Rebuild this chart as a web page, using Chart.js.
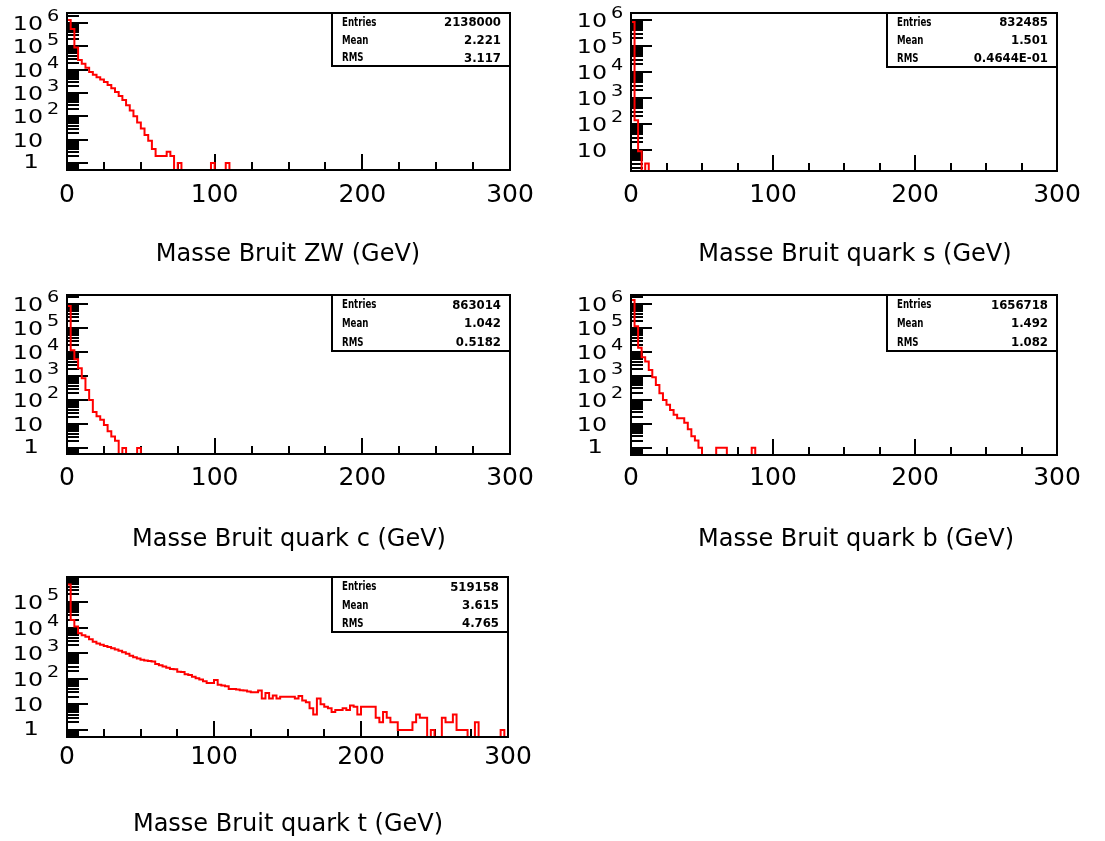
<!DOCTYPE html>
<html>
<head>
<meta charset="utf-8">
<script src="https://cdn.jsdelivr.net/npm/chart.js"></script>
<style>
body { margin:0; background:#fff; width:1105px; height:841px; position:relative; overflow:hidden; }
canvas { position:absolute; }
</style>
</head>
<body>
<canvas id="c1" width="552" height="283" style="left:0px;top:0px"></canvas>
<canvas id="c2" width="553" height="283" style="left:552px;top:0px"></canvas>
<canvas id="c3" width="552" height="283" style="left:0px;top:283px"></canvas>
<canvas id="c4" width="553" height="283" style="left:552px;top:283px"></canvas>
<canvas id="c5" width="552" height="275" style="left:0px;top:566px"></canvas>
<script>
// histogram bins: 2.5 GeV wide, 0..300 GeV (bins after the listed ones are empty)
var binWidth = 2.5;
var nBins = 120;
var xTicks = [0, 100, 200, 300];

var zwCounts = [1350000, 550000, 90000, 26000, 18000, 12000, 8000, 6000, 4800, 3800,
  3000, 2200, 1600, 1100, 750, 500, 300, 180, 100, 55,
  30, 16, 9, 4, 2, 2, 2, 3, 2, 0,
  1, 0, 0, 0, 0, 0, 0, 0, 0, 1,
  0, 0, 0, 1];
var sCounts = [832000, 140, 9, 0, 3];
var cCounts = [840000, 12000, 5000, 2100, 800, 260, 100, 32, 21, 15,
  9, 5, 3, 2, 0, 1, 0, 0, 0, 1];
var bCounts = [1500000, 120000, 15000, 6000, 4000, 1780, 880, 420, 190, 100,
  62, 38, 24, 17, 17, 11, 6, 3, 2, 1,
  0, 0, 0, 0, 1, 1, 1, 0, 0, 0,
  0, 0, 0, 0, 1];
var tCounts = [480000, 20000, 11000, 6000, 5000, 4400, 3500, 2800, 2400, 2150,
  1900, 1750, 1550, 1400, 1250, 1100, 950, 800, 690, 620,
  560, 520, 490, 470, 375, 340, 300, 270, 240, 235,
  190, 185, 150, 140, 120, 105, 93, 80, 69, 69,
  89, 59, 55, 51, 40, 40, 38, 36, 35, 32,
  30, 30, 35, 17, 28, 17, 22, 17, 20, 20,
  20, 20, 17, 21, 14, 12, 7, 4, 17, 10,
  8, 7, 5, 6, 6, 7, 6, 9, 8, 4,
  8, 8, 8, 8, 3, 2, 5, 3, 2, 2,
  1, 1, 1, 1, 2, 4, 3, 3, 0, 1,
  0, 0, 3, 2, 2, 4, 1, 1, 1, 0,
  0, 2, 0, 0, 0, 0, 0, 0, 1];

var titles = ["Masse Bruit ZW (GeV)", "Masse Bruit quark s (GeV)", "Masse Bruit quark c (GeV)",
  "Masse Bruit quark b (GeV)", "Masse Bruit quark t (GeV)"];
var entries = ["2138000", "832485", "863014", "1656718", "519158"];
var means = ["2.221", "1.501", "1.042", "1.492", "3.615"];
var rmss = ["3.117", "0.4644E-01", "0.5182", "1.082", "4.765"];
var yMins = [0.5, 1.55, 0.56, 0.5, 0.53];
var yMaxs = [2.7e6, 1.85e6, 2.4e6, 2.4e6, 9.5e5];

// layout: canvas position and frame box, page coordinates
var layout = [
  {id: 'c1', cx: 0, cy: 0, frame: [67, 13, 510, 170], sw: 178, sh: 53, tx: 288, ty: 255, ly: 25},
  {id: 'c2', cx: 552, cy: 0, frame: [631, 13, 1057, 171], sw: 170, sh: 54, tx: 855, ty: 255, ly: 24},
  {id: 'c3', cx: 0, cy: 283, frame: [67, 295, 510, 454], sw: 178, sh: 56, tx: 289, ty: 540, ly: 24},
  {id: 'c4', cx: 552, cy: 283, frame: [631, 295, 1057, 455], sw: 170, sh: 56, tx: 856, ty: 540, ly: 23},
  {id: 'c5', cx: 0, cy: 566, frame: [67, 577, 508, 737], sw: 176, sh: 55, tx: 288, ty: 825, ly: 20}
];
var allCounts = [zwCounts, sCounts, cCounts, bCounts, tCounts];

// one point per bin low edge, value held until the next edge
function histPoints(counts, ymin) {
  var pts = [];
  for (var i = 0; i < nBins; i++) {
    var c = i < counts.length ? counts[i] : 0;
    pts.push({x: i * binWidth, y: c > 0 ? c : ymin});
  }
  pts.push({x: nBins * binWidth, y: ymin});
  return pts;
}

function txt(ctx, s, x, y, font, sx, align) {
  ctx.save();
  ctx.font = font;
  ctx.translate(x, y);
  ctx.scale(sx, 1);
  ctx.textAlign = align;
  ctx.textBaseline = 'middle';
  ctx.fillStyle = '#000';
  ctx.fillText(s, 0, 0);
  ctx.restore();
}

function seg(ctx, x1, y1, x2, y2) {
  ctx.beginPath();
  ctx.moveTo(x1, y1);
  ctx.lineTo(x2, y2);
  ctx.stroke();
}

var rootFrame = {
  id: 'rootFrame',
  // tick marks go under the histogram line
  beforeDatasetsDraw: function(chart) {
    var ctx = chart.ctx, a = chart.chartArea, xs = chart.scales.x, ys = chart.scales.y;
    ctx.save();
    ctx.strokeStyle = '#000';
    ctx.lineWidth = 2;
    var lo = Math.floor(Math.log10(ys.min)), hi = Math.ceil(Math.log10(ys.max));
    for (var d = lo; d <= hi; d++) {
      for (var m = 1; m < 10; m++) {
        var v = m * Math.pow(10, d);
        if (v < ys.min || v > ys.max) continue;
        var py = Math.round(ys.getPixelForValue(v));
        seg(ctx, a.left, py, a.left + (m === 1 ? 21 : 12), py);
      }
    }
    for (var g = 0; g <= 300; g += 25) {
      var px = Math.round(xs.getPixelForValue(g));
      seg(ctx, px, a.bottom, px, a.bottom - (g % 100 === 0 ? 16 : 8));
    }
    ctx.restore();
  },
  afterDatasetsDraw: function(chart) {
    var o = chart.options.plugins.rootFrame;
    var ctx = chart.ctx, a = chart.chartArea, xs = chart.scales.x, ys = chart.scales.y;
    ctx.save();
    ctx.strokeStyle = '#000';
    ctx.lineWidth = 2;
    // y labels 1, 10, 10^n
    var lo = Math.floor(Math.log10(ys.min)), hi = Math.ceil(Math.log10(ys.max));
    for (var d = Math.max(lo, 0); d <= hi; d++) {
      var p = Math.pow(10, d);
      if (p < ys.min || p > ys.max) continue;
      var ty = ys.getPixelForValue(p);
      if (d === 0) {
        txt(ctx, "1", a.left - 36, ty, "19px 'DejaVu Sans'", 1.3, 'center');
      } else {
        txt(ctx, "10", a.left - 24, ty + 2, "19px 'DejaVu Sans'", 1.25, 'right');
        if (d > 1) txt(ctx, String(d), a.left - 20, ty - 6, "16px 'DejaVu Sans'", 1.2, 'left');
      }
    }
    xTicks.forEach(function(t) {
      txt(ctx, String(t), xs.getPixelForValue(t), a.bottom + o.ly, "25px 'DejaVu Sans'", 1.0, 'center');
    });
    // frame
    ctx.strokeRect(a.left, a.top, a.right - a.left, a.bottom - a.top);
    // stats box
    var bx = a.right - o.sw, by = a.top;
    ctx.fillStyle = '#fff';
    ctx.fillRect(bx, by, o.sw, o.sh);
    ctx.strokeRect(bx, by, o.sw, o.sh);
    var rows = [["Entries", o.entries], ["Mean", o.mean], ["RMS", o.rms]];
    var rh = o.sh / 3;
    rows.forEach(function(r, i) {
      var yy = by + rh * (i + 0.5) + 1;
      txt(ctx, r[0], bx + 10, yy, "bold 12px 'DejaVu Sans'", 0.72, 'left');
      txt(ctx, r[1], a.right - 9, yy, "bold 13px 'DejaVu Sans'", 0.9, 'right');
    });
    // title
    txt(ctx, o.title, o.tx, o.ty, "24px 'DejaVu Sans'", 1.0, 'center');
    ctx.restore();
  }
};

layout.forEach(function(L, i) {
  var cv = document.getElementById(L.id);
  var f = L.frame;
  new Chart(cv, {
    type: 'line',
    data: {
      datasets: [{
        data: histPoints(allCounts[i], yMins[i]),
        stepped: 'before',
        borderColor: '#ff0000',
        borderWidth: 2,
        pointRadius: 0,
        fill: false
      }]
    },
    options: {
      responsive: false,
      animation: false,
      layout: {padding: {left: f[0] - L.cx, top: f[1] - L.cy, right: L.cx + cv.width - f[2], bottom: L.cy + cv.height - f[3]}},
      scales: {
        x: {type: 'linear', min: 0, max: 300, display: false},
        y: {type: 'logarithmic', min: yMins[i], max: yMaxs[i], display: false}
      },
      plugins: {
        legend: {display: false},
        tooltip: {enabled: false},
        rootFrame: {sw: L.sw, sh: L.sh, ly: L.ly, tx: L.tx - L.cx, ty: L.ty - L.cy,
          title: titles[i], entries: entries[i], mean: means[i], rms: rmss[i]}
      }
    },
    plugins: [rootFrame]
  });
});
</script>
</body>
</html>
